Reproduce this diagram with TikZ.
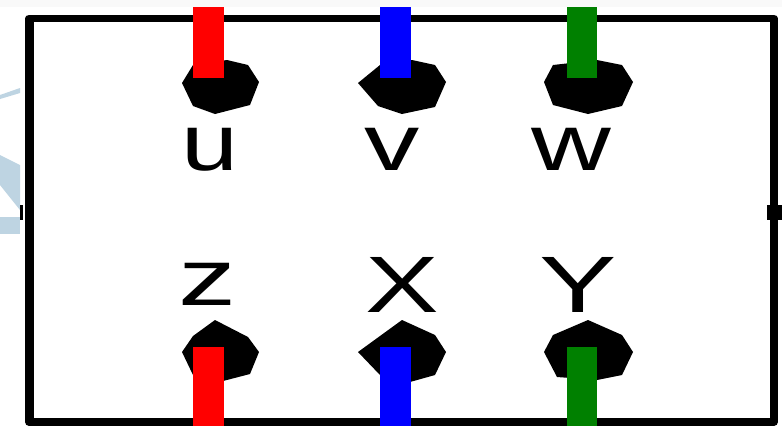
\documentclass[tikz,border=0pt]{standalone}
\usepackage{fontspec}
\setmainfont{Liberation Sans}
\definecolor{ghostblue}{RGB}{190,212,226}
\definecolor{leadgreen}{RGB}{0,128,0}
\definecolor{stripgrey}{RGB}{249,249,249}
\begin{document}
\begin{tikzpicture}[x=0.75pt,y=-0.75pt,
  frame/.style={draw=black,line width=5.8pt,line join=round},
  blob/.style={fill=black},
  ghost/.style={fill=ghostblue},
  lab/.style={font=\fontsize{60}{60}\selectfont,inner sep=0pt,anchor=base,text=black}]
\useasboundingbox (0,0) rectangle (782,426);
\fill[white] (0,0) rectangle (782,426);
\fill[stripgrey] (0,0) rectangle (782,7);
\fill[ghost] (0,95) -- (20,88) -- (20,93) -- (0,99) -- cycle;
\fill[ghost] (0,155) -- (20,165) -- (20,210) -- (0,185) -- cycle;
\fill[ghost] (0,217) rectangle (20,234);
\draw[frame] (29,18.5) rectangle (774,422);
\fill[black] (24.5,18) rectangle (34,422);
\fill[black] (20,205) rectangle (23,220);
\fill[black] (767,205) rectangle (782,220);
\fill[blob] (182,83) -- (193,65) -- (227,60) -- (248,65) -- (259,82) -- (250,105) -- (215,114) -- (193,106) -- cycle;
\fill[blob] (358,83) -- (380,65) -- (412,60) -- (435,65) -- (446,82) -- (435,107) -- (402,114) -- (378,106) -- cycle;
\fill[blob] (544,82) -- (553,65) -- (597,60) -- (622,65) -- (633,82) -- (622,106) -- (588,114) -- (553,105) -- cycle;
\fill[blob] (182,352) -- (193,336) -- (215,320) -- (248,337) -- (259,352) -- (250,374) -- (223,381) -- (193,375) -- cycle;
\fill[blob] (358,352) -- (402,320) -- (435,335) -- (446,352) -- (435,375) -- (410,382) -- (380,375) -- cycle;
\fill[blob] (544,352) -- (553,335) -- (588,320) -- (622,335) -- (633,352) -- (622,375) -- (597,380) -- (557,377) -- cycle;
\fill[red] (193,7) rectangle (224,78);
\fill[blue] (380,7) rectangle (411,78);
\fill[leadgreen] (567,7) rectangle (597,78);
\fill[red] (193,347) rectangle (224,426);
\fill[blue] (380,347) rectangle (411,426);
\fill[leadgreen] (567,347) rectangle (597,426);
\node[lab] (u) at (210,170) {\scalebox{1.28}[1]{u}};
\node[lab] (v) at (392,170) {\scalebox{1.38}[1]{v}};
\node[lab] (w) at (571,170) {\scalebox{1.38}[1]{w}};
\node[lab] (z) at (207,305) {\scalebox{1.45}[1]{z}};
\node[lab] (x) at (402,312) {\scalebox{1.38}[1]{X}};
\node[lab] (y) at (578,312) {\scalebox{1.45}[1]{Y}};
\end{tikzpicture}
\end{document}
